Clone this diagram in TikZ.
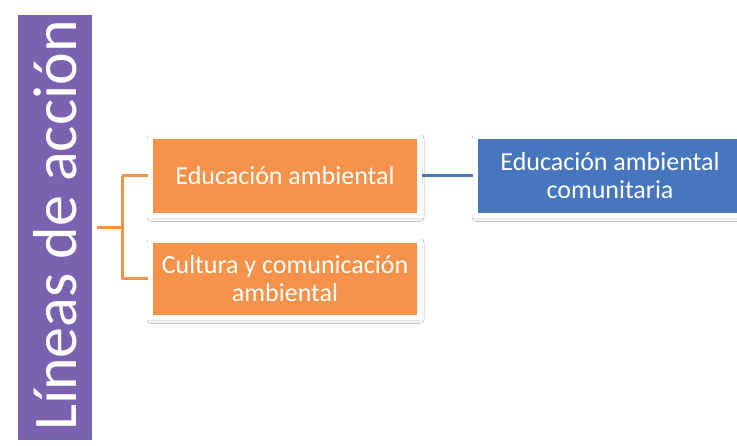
\documentclass[tikz,border=0pt]{standalone}
\usepackage{fontspec}
\setmainfont{Carlito}
\usepackage{xcolor}
\usetikzlibrary{shadows.blur}
\definecolor{linviolet}{RGB}{122,98,176}
\definecolor{linorange}{RGB}{246,146,74}
\definecolor{linblue}{RGB}{72,118,190}

\begin{document}
\begin{tikzpicture}[x=1pt,y=-1pt]
\tikzstyle{every node}+=[inner sep=0pt]
\tikzstyle{box}=[rectangle, draw=white, line width=5pt, text=white, align=center,
  font=\fontsize{26}{28}\selectfont]
\tikzstyle{shadowbox}=[box, blur shadow={shadow xshift=0.5pt, shadow yshift=-2pt,
  shadow blur radius=4pt, shadow opacity=30}]
\tikzstyle{orangebox}=[shadowbox, fill=linorange, minimum width=269pt, minimum height=79pt]
\tikzstyle{bluebox}=[shadowbox, fill=linblue, minimum width=269pt, minimum height=79pt]
\tikzstyle{orangeline}=[linorange, line width=3pt]
\tikzstyle{blueline}=[linblue, line width=3pt]
\fill [white] (0,0) rectangle (737,446);
\useasboundingbox (0,0) rectangle (737,446);
\begin{scope}
\clip (0,0) rectangle (737,446);
\node [box, fill=linviolet, minimum width=79pt, minimum height=430pt,
  font=\fontsize{62}{62}\selectfont] (lin) at (55,227.5)
  {\rotatebox{90}{\hspace{4pt}Líneas de acción}};
\node [orangebox] (edu) at (285,176) {Educación ambiental};
\node [orangebox, minimum height=77pt] (cult) at (285,279) {Cultura y comunicación\\ambiental};
\node [bluebox] (com) at (610,176) {Educación ambiental\\comunitaria};
\coordinate (fork) at (122,227.5);
\draw [orangeline] (lin.east) -- (fork);
\draw [orangeline] (fork |- edu) -- (fork |- cult);
\draw [orangeline] (fork |- edu) -- (edu.west);
\draw [orangeline] (fork |- cult) -- (cult.west);
\draw [blueline] (edu.east) -- (com.west);
\end{scope}
\end{tikzpicture}
\end{document}
